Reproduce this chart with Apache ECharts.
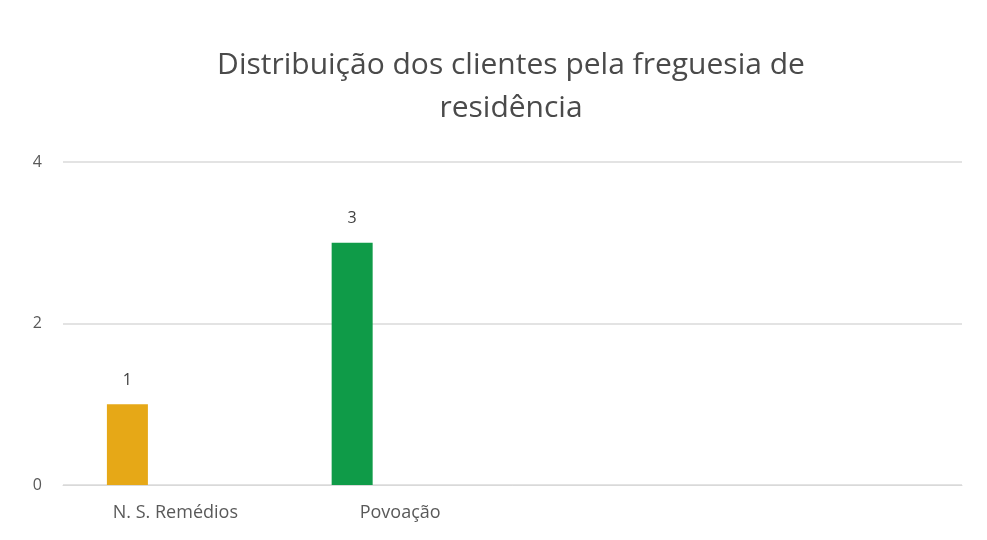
<!DOCTYPE html>
<html>
<head>
<meta charset="utf-8">
<script src="https://cdn.jsdelivr.net/npm/echarts@6/dist/echarts.min.js"></script>
<style>html,body{margin:0;padding:0;background:#fff}#c{width:987px;height:540px}</style>
</head>
<body>
<div id="c"></div>
<script>
const titleText = 'Distribuição dos clientes pela freguesia de\nresidência';
const categories = ['N. S. Remédios', 'Povoação', '', ''];
const values = [1, 3, null, null];
const placeholder = [null, null, null, null];
const barColors = ['#E6A817', '#0F9B48', '#E6A817', '#0F9B48'];
const yTicks = [0, 2, 4];

const chart = echarts.init(document.getElementById('c'), null, {renderer: 'canvas'});
const font = 'Open Sans';
chart.setOption({
  animation: false,
  backgroundColor: '#ffffff',
  title: {
    text: titleText,
    left: 506,
    top: 39,
    textAlign: 'center',
    textStyle: {fontFamily: font, fontSize: 30, fontWeight: 'normal', color: '#4a4a4a', lineHeight: 43}
  },
  grid: {left: 63, right: 25, top: 162, bottom: 55, containLabel: false},
  xAxis: {
    type: 'category',
    data: categories,
    axisLine: {show: true, lineStyle: {color: '#D9D9D9', width: 1}},
    axisTick: {show: false},
    axisLabel: {fontFamily: font, fontSize: 18, color: '#595959', margin: 19, interval: 0},
    splitLine: {show: false}
  },
  yAxis: {
    type: 'value',
    min: yTicks[0],
    max: yTicks[yTicks.length - 1],
    interval: yTicks[1] - yTicks[0],
    axisLine: {show: false},
    axisTick: {show: false},
    axisLabel: {fontFamily: font, fontSize: 16, color: '#595959', margin: 21, padding: [0, 0, 6, 0]},
    splitLine: {lineStyle: {color: '#E3E3E3', width: 2}}
  },
  series: [
    {
      type: 'bar',
      barWidth: 41,
      barGap: '134%',
      data: values.map((v, i) => ({value: v, itemStyle: {color: barColors[i]}})),
      label: {show: true, position: 'top', distance: 16, fontFamily: font, fontSize: 16, color: '#404040'}
    },
    {
      type: 'bar',
      barWidth: 41,
      data: placeholder
    }
  ]
});
</script>
</body>
</html>
